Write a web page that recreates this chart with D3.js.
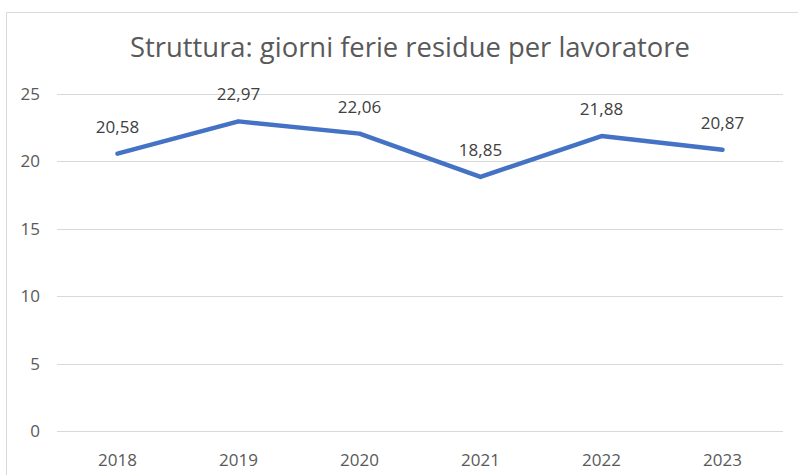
<!DOCTYPE html>
<html>
<head>
<meta charset="utf-8">
<script src="https://cdn.jsdelivr.net/npm/d3@7"></script>
<style>
  body { margin: 0; background: #fff; }
  text { font-family: "Open Sans", "Noto Sans", sans-serif; }
</style>
</head>
<body>
<div id="chart-area"></div>
<script>
// dati
var years = ["2018", "2019", "2020", "2021", "2022", "2023"];
var ferie = [20.58, 22.97, 22.06, 18.85, 21.88, 20.87];
var yTicks = [0, 5, 10, 15, 20, 25];

var W = 798, H = 475;
var margin = {top: 94, bottom: 44, left: 57, right: 15};
var width = 783 - margin.left;
var height = 431 - margin.top;

var svg = d3.select("#chart-area")
  .append("svg")
  .attr("width", W)
  .attr("height", H);

// bordo del grafico
svg.append("path")
  .attr("d", "M6.5," + H + "V12.5H" + W)
  .attr("fill", "none")
  .attr("stroke", "#d9d9d9")
  .attr("stroke-width", 1);

svg.append("text")
  .attr("x", 410)
  .attr("y", 57)
  .attr("text-anchor", "middle")
  .attr("font-size", "27.4px")
  .attr("fill", "#595959")
  .text("Struttura: giorni ferie residue per lavoratore");

var g = svg.append("g")
  .attr("transform", "translate(" + margin.left + "," + margin.top + ")");

var x = d3.scaleBand()
  .domain(years)
  .range([0, width]);

var y = d3.scaleLinear()
  .domain([0, 25])
  .range([height, 0]);

// griglia
g.append("g")
  .selectAll("line")
  .data(yTicks)
  .enter()
  .append("line")
  .attr("x1", 0)
  .attr("x2", width)
  .attr("y1", function(d) { return Math.round(y(d)) + 0.5; })
  .attr("y2", function(d) { return Math.round(y(d)) + 0.5; })
  .attr("stroke", "#d9d9d9")
  .attr("stroke-width", 1);

var yAxis = g.append("g")
  .call(d3.axisLeft(y).tickValues(yTicks).tickSize(0).tickPadding(17));
yAxis.select(".domain").remove();
yAxis.selectAll("text")
  .attr("font-size", "17px")
  .attr("fill", "#595959")
  .attr("font-family", "\"Open Sans\", sans-serif");

var xAxis = g.append("g")
  .attr("transform", "translate(0," + height + ")")
  .call(d3.axisBottom(x).tickSize(0).tickPadding(23));
xAxis.select(".domain").remove();
xAxis.selectAll("text")
  .attr("font-size", "17px")
  .attr("fill", "#595959")
  .attr("font-family", "\"Open Sans\", sans-serif");

var line = d3.line()
  .x(function(d, i) { return x(years[i]) + x.bandwidth() / 2; })
  .y(function(d) { return y(d); });

g.append("path")
  .datum(ferie)
  .attr("d", line)
  .attr("fill", "none")
  .attr("stroke", "#4472c4")
  .attr("stroke-width", 4.5)
  .attr("stroke-linejoin", "round")
  .attr("stroke-linecap", "round");

g.append("g")
  .selectAll("text")
  .data(ferie)
  .enter()
  .append("text")
  .attr("x", function(d, i) { return x(years[i]) + x.bandwidth() / 2; })
  .attr("y", function(d) { return y(d) - 21; })
  .attr("text-anchor", "middle")
  .attr("font-size", "17px")
  .attr("fill", "#404040")
  .text(function(d) { return d.toFixed(2).replace(".", ","); });
</script>
</body>
</html>
